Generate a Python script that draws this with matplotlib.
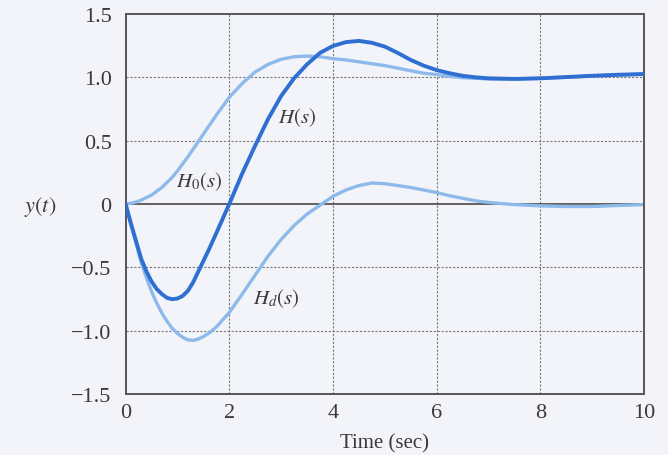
import matplotlib
matplotlib.use("Agg")
from matplotlib import pyplot as plt, rc

# step responses read at these times (sec)
t = [0, 0.1, 0.2, 0.3, 0.4, 0.5, 0.6, 0.7, 0.8, 0.9, 1.0, 1.1, 1.2, 1.3, 1.4,
     1.5, 1.6, 1.75, 2.0, 2.25, 2.5, 2.75, 3.0, 3.25, 3.5, 3.75, 4.0, 4.25,
     4.5, 4.75, 5.0, 5.25, 5.5, 5.75, 6.0, 6.25, 6.5, 6.75, 7.0, 7.5, 8.0,
     8.5, 9.0, 9.5, 10.0]

y_h = [0, -0.15, -0.29, -0.43, -0.53, -0.61, -0.67, -0.71, -0.74, -0.75,
       -0.745, -0.725, -0.685, -0.62, -0.535, -0.45, -0.365, -0.23, 0.0,
       0.24, 0.46, 0.67, 0.85, 0.99, 1.10, 1.19, 1.245, 1.275, 1.285, 1.27,
       1.24, 1.19, 1.135, 1.09, 1.055, 1.03, 1.01, 0.998, 0.99, 0.985, 0.99,
       1.0, 1.01, 1.018, 1.024]

y_h0 = [0, 0.005, 0.015, 0.03, 0.05, 0.07, 0.10, 0.13, 0.17, 0.21, 0.26,
        0.315, 0.37, 0.43, 0.49, 0.55, 0.61, 0.70, 0.84, 0.95, 1.04, 1.10,
        1.14, 1.16, 1.165, 1.16, 1.145, 1.135, 1.12, 1.105, 1.09, 1.07, 1.05,
        1.03, 1.02, 1.005, 0.995, 0.99, 0.985, 0.985, 0.99, 0.998, 1.008,
        1.016, 1.022]

y_hd = [0, -0.155, -0.305, -0.46, -0.58, -0.69, -0.78, -0.86, -0.925, -0.98,
        -1.02, -1.05, -1.07, -1.075, -1.065, -1.045, -1.02, -0.97, -0.855,
        -0.71, -0.56, -0.41, -0.28, -0.17, -0.08, -0.01, 0.06, 0.11, 0.145,
        0.165, 0.16, 0.145, 0.13, 0.11, 0.09, 0.065, 0.045, 0.025, 0.012,
        -0.005, -0.015, -0.02, -0.02, -0.012, -0.005]

x_ticks = [0, 2, 4, 6, 8, 10]
y_ticks = [-1.5, -1.0, -0.5, 0, 0.5, 1.0, 1.5]
y_tick_labels = ["\u22121.5", "\u22121.0", "\u22120.5", "0", "0.5", "1.0", "1.5"]

dark = "#2f6fd2"
light = "#8dbaeb"
paper = "#f3f4f9"
ink = "#3a3a3a"

rc('font', family='Liberation Serif', size=16)
rc('mathtext', fontset='stix')

fig = plt.figure(figsize=(6.68, 4.56), dpi=100, facecolor=paper)
ax = fig.add_axes([0.188, 0.133, 0.776, 0.835], facecolor=paper)

for x in x_ticks[1:-1]:
    ax.axvline(x, color="#777777", lw=0.8, ls=(0, (2, 1.5)), zorder=1)
for y in y_ticks[1:-1]:
    if y == 0:
        ax.axhline(0, color="#555555", lw=1.3, zorder=1)
    else:
        ax.axhline(y, color="#777777", lw=0.8, ls=(0, (2, 1.5)), zorder=1)

ax.plot(t, y_h0, color=light, lw=2.4, zorder=2, solid_capstyle='round',
        solid_joinstyle='round')
ax.plot(t, y_hd, color=light, lw=2.4, zorder=2, solid_capstyle='round',
        solid_joinstyle='round')
ax.plot(t, y_h, color=dark, lw=2.8, zorder=3, solid_capstyle='round',
        solid_joinstyle='round')

ax.text(3.31, 0.69, r"$H(s)$", ha='center', va='center', fontsize=15, color=ink)
ax.text(1.42, 0.18, r"$H_0(s)$", ha='center', va='center', fontsize=15, color=ink)
ax.text(2.9, -0.74, r"$H_d(s)$", ha='center', va='center', fontsize=15, color=ink)

ax.set_xlim(0, 10)
ax.set_ylim(-1.5, 1.5)
ax.set_xticks(x_ticks)
ax.set_yticks(y_ticks)
ax.set_yticklabels(y_tick_labels)
ax.tick_params(length=0, pad=10, labelcolor=ink)
ax.tick_params(axis='x', pad=6)

for side in ax.spines.values():
    side.set_color("#555555")
    side.set_linewidth(1.4)

ax.set_xlabel("Time (sec)", color=ink, labelpad=8, fontsize=15)
fig.text(0.06, 0.545, r"$y(t)$", ha='center', va='center', fontsize=16, color=ink)

fig.savefig("out.png", dpi=100, facecolor=paper)
